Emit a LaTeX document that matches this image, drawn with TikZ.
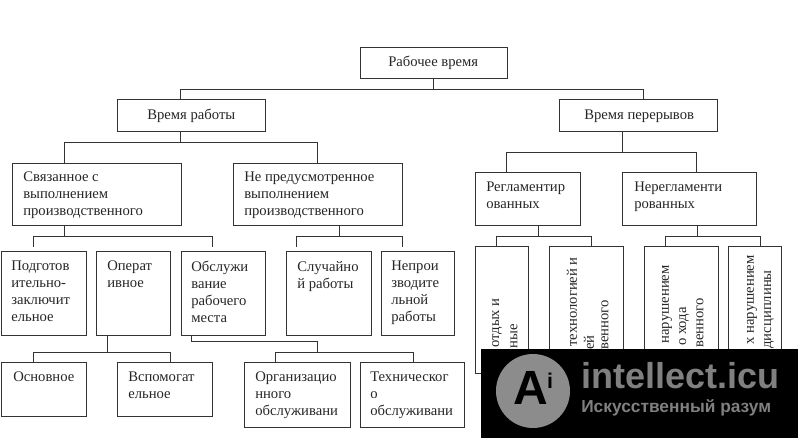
\documentclass[tikz,border=0pt]{standalone}
\usepackage{fontspec}
\setmainfont{Liberation Serif}
\newfontfamily\logofont{Liberation Sans}
\tikzset{
  cell/.style={draw=black!80,line width=0.75pt,anchor=north west,inner sep=0pt,outer sep=0pt},
  celltext/.style={anchor=north west,inner sep=0.75pt,align=left,font=\fontsize{11}{12.6}\selectfont,text=black!85},
  sidetext/.style={anchor=east,inner sep=0pt,rotate=90,font=\fontsize{11}{12.6}\selectfont,text=black!85},
  link/.style={draw=black!80,line width=0.75pt},
  gaplink/.style={link,shorten <=3.75pt}
}
\begin{document}
\begin{tikzpicture}[x=0.75pt,y=0.75pt,yscale=-1,xscale=1]
\useasboundingbox (0,0) rectangle (800,438);

% Boxes, top rows
\node (root) [cell,minimum width=110.25pt,minimum height=23.25pt] at (360,48) {};
\node (rabota) [cell,minimum width=111pt,minimum height=24pt] at (117,100) {};
\node (pereryv) [cell,minimum width=118.5pt,minimum height=24pt] at (559,100) {};
\node (svyaz) [cell,minimum width=126.75pt,minimum height=46.5pt] at (12,164) {};
\node (nepred) [cell,minimum width=126.75pt,minimum height=46.5pt] at (233,164) {};
\node (regl) [cell,minimum width=78.75pt,minimum height=39.75pt] at (475,173) {};
\node (neregl) [cell,minimum width=100.5pt,minimum height=39.75pt] at (622,173) {};
% Boxes, third row
\node (podgot) [cell,minimum width=63.75pt,minimum height=63pt] at (1,252) {};
\node (operat) [cell,minimum width=55.5pt,minimum height=63pt] at (96,252) {};
\node (obsl) [cell,minimum width=63pt,minimum height=63pt] at (181,252) {};
\node (sluch) [cell,minimum width=63.75pt,minimum height=63pt] at (286,252) {};
\node (neproiz) [cell,minimum width=54.75pt,minimum height=63pt] at (381,252) {};
\node (otdyh) [cell,minimum width=39.75pt,minimum height=95.25pt] at (475,247) {};
\node (tehn) [cell,minimum width=55.5pt,minimum height=95.25pt] at (549,247) {};
\node (narush) [cell,minimum width=55.5pt,minimum height=95.25pt] at (644,247) {};
\node (discip) [cell,minimum width=39.75pt,minimum height=95.25pt] at (728,247) {};
% Boxes, bottom row
\node (osnov) [cell,minimum width=63.75pt,minimum height=39.75pt] at (1,363) {};
\node (vspom) [cell,minimum width=71.25pt,minimum height=39.75pt] at (117,363) {};
\node (organ) [cell,minimum width=79.5pt,minimum height=48pt] at (244,363) {};
\node (tehobs) [cell,minimum width=78pt,minimum height=48pt] at (360,363) {};

% Bus lines
\coordinate (busroot) at (433,90);
\coordinate (busrabota) at (180,143);
\coordinate (buspereryv) at (622,153);
\coordinate (bussvyaz) at (64,237);
\coordinate (busnepred) at (339,237);
\coordinate (busregl) at (538,237);
\coordinate (busneregl) at (697,237);
\coordinate (busoperat) at (107,353);
\coordinate (busobsl) at (317,353);

\draw [link] (root.south -| busroot) -- (busroot);
\draw [link] (rabota.north -| 180,0) |- (busroot);
\draw [link] (pereryv.north -| 643,0) |- (busroot);

\draw [link] (rabota.south -| busrabota) -- (busrabota);
\draw [link] (svyaz.north -| 64,0) |- (busrabota);
\draw [link] (nepred.north -| 317,0) |- (busrabota);

\draw [link] (pereryv.south -| buspereryv) -- (buspereryv);
\draw [link] (regl.north -| 506,0) |- (buspereryv);
\draw [link] (neregl.north -| 696,0) |- (buspereryv);

\draw [link] (svyaz.south -| bussvyaz) -- (bussvyaz);
\draw [gaplink] (podgot.north -| 33,0) |- (bussvyaz);
\draw [gaplink] (obsl.north -| 212,0) |- (bussvyaz);

\draw [link] (nepred.south -| busnepred) -- (busnepred);
\draw [gaplink] (sluch.north -| 296,0) |- (busnepred);
\draw [gaplink] (neproiz.north -| 402,0) |- (busnepred);

\draw [link] (regl.south -| busregl) -- (busregl);
\draw [link] (otdyh.north -| 496,0) |- (busregl);
\draw [link] (tehn.north -| 591,0) |- (busregl);

\draw [link] (neregl.south -| busneregl) -- (busneregl);
\draw [link] (narush.north -| 665,0) |- (busneregl);
\draw [link] (discip.north -| 760,0) |- (busneregl);

\draw [link] (operat.south -| busoperat) -- (busoperat);
\draw [link] (osnov.north -| 33,0) |- (busoperat);
\draw [link] (vspom.north -| 170,0) |- (busoperat);

\draw [link] (obsl.south -| 191,0) |- (busobsl |- 0,342) -- (busobsl);
\draw [link] (organ.north -| 275,0) |- (busobsl);
\draw [link] (tehobs.north -| 413,0) |- (busobsl);

% Text Node
\node (troot) [celltext,anchor=west] at (387,63) {Рабочее время};
\node (trabota) [celltext,anchor=west] at (146,116) {Время работы};
\node (tpereryv) [celltext,anchor=west] at (583,116) {Время перерывов};
\node (tsvyaz) [celltext] at (22,171) {Связанное с\\выполнением\\производственного};
\node (tnepred) [celltext] at (243,171) {Не предусмотренное\\выполнением\\производственного};
\node (tregl) [celltext] at (485,181) {Регламентир\\ованных};
\node (tneregl) [celltext] at (633,181) {Нерегламенти\\рованных};
\node (tpodgot) [celltext] at (10,260) {Подготов\\ительно-\\заключит\\ельное};
\node (toperat) [celltext] at (106,260) {Операт\\ивное};
\node (tobsl) [celltext] at (190,260) {Обслужи\\вание\\рабочего\\места};
\node (tsluch) [celltext] at (296,260) {Случайно\\й работы};
\node (tneproiz) [celltext] at (390,260) {Непрои\\зводите\\льной\\работы};
\node (tosnov) [celltext] at (12,371) {Основное};
\node (tvspom) [celltext] at (127,371) {Вспомогат\\ельное};
\node (torgan) [celltext] at (254,371) {Организацио\\нного\\обслуживани};
\node (ttehobs) [celltext] at (369,371) {Техническог\\о\\обслуживани};

% Rotated text
\node (sotdyh) [sidetext] at (497,298) {отдых и};
\node (sotdyhb) [sidetext] at (514,324) {ные};
\node (stehn) [sidetext] at (572,257) {технологией и};
\node (stehnb) [sidetext] at (589,335) {ей};
\node (stehnc) [sidetext] at (605,300) {венного};
\node (snarush) [sidetext] at (667,265) {нарушением};
\node (snarushb) [sidetext] at (684,307) {о хода};
\node (snarushc) [sidetext] at (700,298) {венного};
\node (sdiscip) [sidetext] at (752,255) {х нарушением};
\node (sdiscipb) [sidetext] at (769,270) {дисциплины};

% Watermark
\fill [black] (481,349) rectangle (798,438);
\fill [black!45] (533,391) circle (37);
\node (logoa) [inner sep=0pt,text=black,font=\logofont\bfseries\fontsize{36}{36}\selectfont] at (531,388) {A};
\node (logoi) [inner sep=0pt,text=black,font=\logofont\bfseries\fontsize{16}{16}\selectfont] at (550,381) {i};
\node (logoname) [anchor=west,inner sep=0pt,text=black!50,font=\logofont\bfseries\fontsize{27}{27}\selectfont] at (581,376) {intellect.icu};
\node (logosub) [anchor=west,inner sep=0pt,text=black!50,font=\logofont\bfseries\fontsize{13}{14}\selectfont] at (581,408) {Искусственный разум};
\end{tikzpicture}
\end{document}
